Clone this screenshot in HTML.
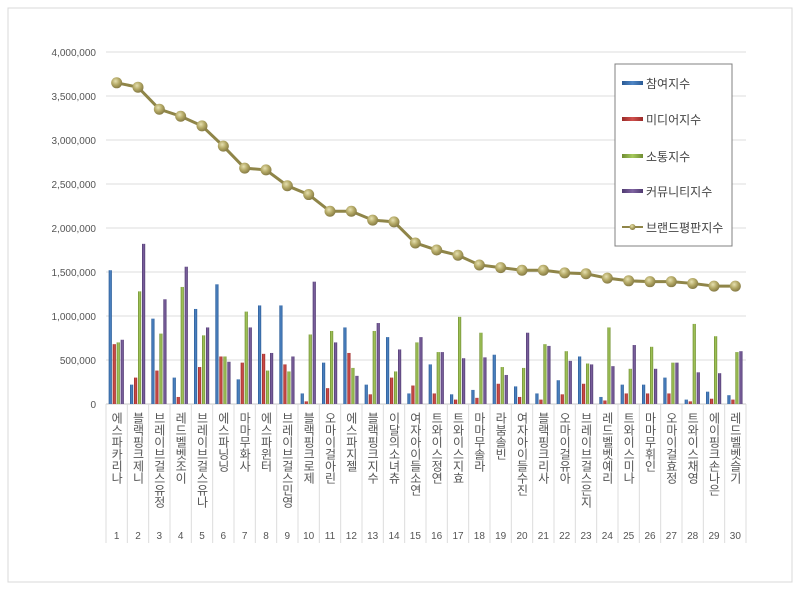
<!DOCTYPE html>
<html><head><meta charset="utf-8">
<style>
body{margin:0;background:#fff;}
svg text{font-family:"Liberation Sans","Noto Sans CJK KR",sans-serif;}
.vl{writing-mode:vertical-rl;text-orientation:upright;}
</style></head>
<body>
<svg width="800" height="592" xmlns="http://www.w3.org/2000/svg">
<defs>
<linearGradient id="gB" x1="0" x2="1"><stop offset="0" stop-color="#2a5a94"/><stop offset="0.5" stop-color="#4f86c6"/><stop offset="1" stop-color="#2a5a94"/></linearGradient>
<linearGradient id="gR" x1="0" x2="1"><stop offset="0" stop-color="#9a2a28"/><stop offset="0.5" stop-color="#d0504d"/><stop offset="1" stop-color="#9a2a28"/></linearGradient>
<linearGradient id="gG" x1="0" x2="1"><stop offset="0" stop-color="#6f8c32"/><stop offset="0.5" stop-color="#a5c95c"/><stop offset="1" stop-color="#6f8c32"/></linearGradient>
<linearGradient id="gP" x1="0" x2="1"><stop offset="0" stop-color="#4f3a70"/><stop offset="0.5" stop-color="#8064a2"/><stop offset="1" stop-color="#4f3a70"/></linearGradient>
<radialGradient id="gD" cx="0.4" cy="0.35" r="0.7"><stop offset="0" stop-color="#e6e0b0"/><stop offset="0.5" stop-color="#b3a865"/><stop offset="1" stop-color="#7f7440"/></radialGradient>
</defs>
<rect x="8" y="8" width="784" height="574" fill="#fff" stroke="#d8d8d8"/>
<g id="grid"></g>
<g id="yticks"></g>
<g id="bars"></g>
<g id="line"></g>
<g id="xlabels"></g>
<g>
<rect x="615" y="64" width="117" height="182" fill="#fff" stroke="#808080"/>
<g><rect x="622" y="81" width="21" height="4" fill="url(#gB)"/><text x="646" y="88" font-size="12" fill="#444">참여지수</text></g>
<g><rect x="622" y="117" width="21" height="4" fill="url(#gR)"/><text x="646" y="124" font-size="12" fill="#444">미디어지수</text></g>
<g><rect x="622" y="154" width="21" height="4" fill="url(#gG)"/><text x="646" y="161" font-size="12" fill="#444">소통지수</text></g>
<g><rect x="622" y="189" width="21" height="4" fill="url(#gP)"/><text x="646" y="196" font-size="12" fill="#444">커뮤니티지수</text></g>
<g><line x1="622" y1="227" x2="643" y2="227" stroke="#8f8548" stroke-width="2"/><circle cx="632.5" cy="227" r="3" fill="url(#gD)"/><text x="646" y="232" font-size="12" fill="#444">브랜드평판지수</text></g>
</g>
</svg>
<script>
const names=["에스파 카리나","블랙핑크 제니","브레이브걸스 유정","레드벨벳 조이","브레이브걸스 유나","에스파 닝닝","마마무 화사","에스파 윈터","브레이브걸스 민영","블랙핑크 로제","오마이걸 아린","에스파 지젤","블랙핑크 지수","이달의소녀 츄","여자아이들 소연","트와이스 정연","트와이스 지효","마마무 솔라","라붐 솔빈","여자아이들 수진","블랙핑크 리사","오마이걸 유아","브레이브걸스 은지","레드벨벳 예리","트와이스 미나","마마무 휘인","오마이걸 효정","트와이스 채영","에이핑크 손나은","레드벨벳 슬기"];
const participation=[1.52,0.22,0.97,0.30,1.08,1.36,0.28,1.12,1.12,0.12,0.47,0.87,0.22,0.76,0.12,0.45,0.11,0.16,0.56,0.20,0.12,0.27,0.54,0.08,0.22,0.22,0.30,0.05,0.14,0.10];
const media=[0.68,0.30,0.38,0.08,0.42,0.54,0.47,0.57,0.45,0.03,0.18,0.58,0.11,0.30,0.21,0.12,0.05,0.07,0.23,0.08,0.05,0.11,0.23,0.04,0.12,0.12,0.12,0.03,0.06,0.05];
const communication=[0.70,1.28,0.80,1.33,0.78,0.54,1.05,0.38,0.37,0.79,0.83,0.41,0.83,0.37,0.70,0.59,0.99,0.81,0.42,0.41,0.68,0.60,0.46,0.87,0.40,0.65,0.47,0.91,0.77,0.59];
const community=[0.73,1.82,1.19,1.56,0.87,0.48,0.87,0.58,0.54,1.39,0.70,0.32,0.92,0.62,0.76,0.59,0.52,0.53,0.33,0.81,0.66,0.49,0.45,0.43,0.67,0.40,0.47,0.36,0.35,0.60];
const brand=[3.65,3.60,3.35,3.27,3.16,2.93,2.68,2.66,2.48,2.38,2.19,2.19,2.09,2.07,1.83,1.75,1.69,1.58,1.55,1.52,1.52,1.49,1.48,1.43,1.40,1.39,1.39,1.37,1.34,1.34];
const yTicks=[0,500000,1000000,1500000,2000000,2500000,3000000,3500000,4000000];
const NS="http://www.w3.org/2000/svg";
const X0=106,X1=746,Y0=404,Y1=52,YMAX=4000000;
const slot=(X1-X0)/names.length;
function xc(i){return X0+slot*(i+0.5);}
function y(v){return Y0-(v/YMAX)*(Y0-Y1);}
function mk(tag,attrs,parent){const e=document.createElementNS(NS,tag);for(const k in attrs)e.setAttribute(k,attrs[k]);document.getElementById(parent).appendChild(e);return e;}
yTicks.forEach(t=>{
  if(t>0){const l=mk('line',{x1:X0,x2:X1,y1:y(t),y2:y(t),stroke:'#dcdcdc'},'grid');
  
  }
  const tx=mk('text',{x:96,y:y(t)+4,'text-anchor':'end','font-size':'10',fill:'#555'},'yticks');
  tx.textContent=t.toLocaleString('en-US');
  
  
});
const base=mk('line',{x1:X0,x2:X1,y1:Y0,y2:Y0,stroke:'#c8c8c8'},'grid');


for(let i=0;i<=names.length;i++){
  const sx=X0+slot*i;
  const s=mk('line',{x1:sx,x2:sx,y1:Y0,y2:543,stroke:'#dcdcdc'},'grid');
  
  
}
const series=[[participation,'url(#gB)','participation'],[media,'url(#gR)','media'],[communication,'url(#gG)','communication'],[community,'url(#gP)','community']];
names.forEach((n,i)=>{
  series.forEach((s,k)=>{
    const v=s[0][i]*1e6;const bx=xc(i)-8+k*4;
    const r=mk('rect',{x:bx,y:y(v),width:3.2,height:Y0-y(v),fill:s[1]},'bars');
    
    
  });
  const g=mk('text',{x:xc(i),y:412,'font-size':'12',fill:'#555','text-anchor':'start','class':'vl'},'xlabels');
  g.textContent=n.replace(' ','');
  
  
  const num=mk('text',{x:xc(i),y:539,'font-size':'10',fill:'#555','text-anchor':'middle'},'xlabels');
  num.textContent=String(i+1);
  
  
});
const pts=brand.map((v,i)=>xc(i)+','+y(v*1e6)).join(' ');
const pl=mk('polyline',{points:pts,fill:'none',stroke:'#8f8548','stroke-width':'3'},'line');


brand.forEach((v,i)=>{
  const c=mk('circle',{cx:xc(i),cy:y(v*1e6),r:5.5,fill:'url(#gD)'},'line');
  
  
});
</script>
</body></html>
